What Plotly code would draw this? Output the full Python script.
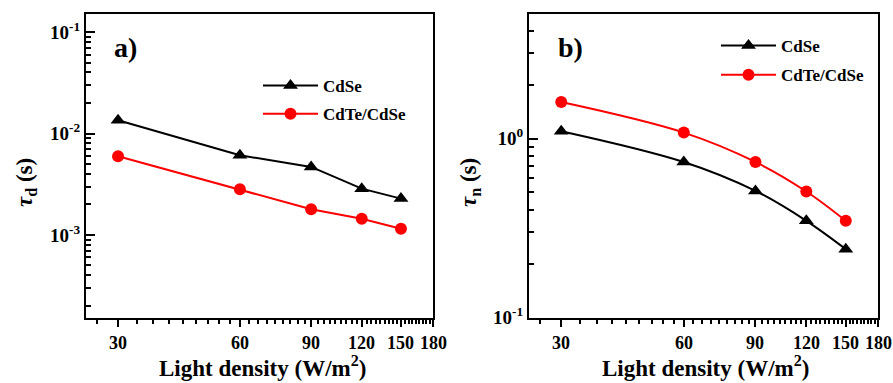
import numpy as np
import plotly.graph_objects as go

light = [30, 60, 90, 120, 150]
tau_d_cdse = [0.0135, 0.0061, 0.00468, 0.00286, 0.00228]
tau_d_cdte = [0.00596, 0.00282, 0.00179, 0.00144, 0.00115]
tau_n_cdse = [1.10, 0.74, 0.51, 0.347, 0.241]
tau_n_cdte = [1.60, 1.08, 0.74, 0.506, 0.347]
series_names = ["CdSe", "CdTe/CdSe"]
x_ticks = [30, 60, 90, 120, 150, 180]

W, H = 893, 383
FONT = "Liberation Serif"
BLACK = "#000000"
RED = "#ff0000"

fig = go.Figure()

def px_x(p):
    return p / W

def px_y(p):
    return 1 - p / H

# panel a
fig.add_trace(go.Scatter(x=light, y=tau_d_cdse, name=series_names[0], mode="lines+markers",
                         line=dict(color=BLACK, width=2), marker=dict(symbol="triangle-up", size=13, color=BLACK),
                         xaxis="x", yaxis="y", legend="legend", legendgroup="a1"))
fig.add_trace(go.Scatter(x=light, y=tau_d_cdte, name=series_names[1], mode="lines+markers",
                         line=dict(color=RED, width=2), marker=dict(symbol="circle", size=12, color=RED),
                         xaxis="x", yaxis="y", legend="legend", legendgroup="a2"))
# panel b
fig.add_trace(go.Scatter(x=light, y=tau_n_cdse, name=series_names[0], mode="lines+markers",
                         line=dict(color=BLACK, width=2, shape="spline"), marker=dict(symbol="triangle-up", size=13, color=BLACK),
                         xaxis="x2", yaxis="y2", legend="legend2", legendgroup="b1"))
fig.add_trace(go.Scatter(x=light, y=tau_n_cdte, name=series_names[1], mode="lines+markers",
                         line=dict(color=RED, width=2, shape="spline"), marker=dict(symbol="circle", size=12, color=RED),
                         xaxis="x2", yaxis="y2", legend="legend2", legendgroup="b2"))

x_minor = [round(k * 10 / 3, 4) for k in range(8, 55) if k % 9 != 0]
x_minor = [v for v in x_minor if 25 <= v <= 180]

def xaxis_cfg(d0, d1, anchor):
    return dict(type="log", range=[np.log10(25), np.log10(180)], domain=[d0, d1], anchor=anchor,
                tickmode="array", tickvals=x_ticks, showticklabels=False,
                ticks="outside", ticklen=7, tickwidth=2, tickcolor=BLACK, automargin=False,
                minor=dict(tickmode="array", tickvals=x_minor, ticks="outside", ticklen=4, tickwidth=1.5, tickcolor=BLACK),
                showline=True, linewidth=2, linecolor=BLACK, mirror=True, showgrid=False, zeroline=False)

def yaxis_cfg(rng, majors, labels, anchor, d0, d1):
    lo, hi = rng
    minors = []
    for e in range(int(np.floor(lo)) - 1, int(np.ceil(hi)) + 1):
        for k in range(2, 10):
            v = k * 10.0 ** e
            if 10 ** lo <= v <= 10 ** hi:
                minors.append(v)
    return dict(type="log", range=list(rng), domain=[d0, d1], anchor=anchor,
                tickmode="array", tickvals=majors, ticktext=labels,
                ticks="inside", ticklen=9, tickwidth=2, tickcolor=BLACK, automargin=False,
                minor=dict(tickmode="array", tickvals=minors, ticks="inside", ticklen=5, tickwidth=1.5, tickcolor=BLACK),
                showline=True, linewidth=2, linecolor=BLACK, mirror=True, showgrid=False, zeroline=False,
                tickfont=dict(family=FONT, size=19, color=BLACK, weight="bold"))

yd0, yd1 = px_y(317.5), px_y(13.5)
fig.update_layout(
    width=W, height=H,
    margin=dict(l=0, r=0, t=0, b=0, autoexpand=False),
    paper_bgcolor="white", plot_bgcolor="white",
    xaxis=xaxis_cfg(px_x(86), px_x(433), "y"),
    yaxis=yaxis_cfg((-3.815, -0.816), [1e-3, 1e-2, 1e-1],
                    ["10<sup>-3</sup>", "10<sup>-2</sup>", "10<sup>-1</sup>"], "x", yd0, yd1),
    xaxis2=xaxis_cfg(px_x(529), px_x(878), "y2"),
    yaxis2=yaxis_cfg((-1, np.log10(5)), [1e-1, 1e0],
                     ["10<sup>-1</sup>", "10<sup>0</sup>"], "x2", yd0, yd1),
    legend=dict(x=px_x(258), y=px_y(68), xanchor="left", yanchor="top", bgcolor="rgba(0,0,0,0)",
                font=dict(family=FONT, size=17, color=BLACK, weight="bold"), tracegroupgap=3, itemwidth=55),
    legend2=dict(x=px_x(716), y=px_y(28), xanchor="left", yanchor="top", bgcolor="rgba(0,0,0,0)",
                 font=dict(family=FONT, size=17, color=BLACK, weight="bold"), tracegroupgap=4, itemwidth=55),
)

ann_font = dict(family=FONT, color=BLACK, weight="bold")
# x tick labels placed through each x axis' own log scale
for xref in ["x", "x2"]:
    for v in x_ticks:
        fig.add_annotation(text=str(v), x=np.log10(v), xref=xref, y=px_y(343), yref="paper",
                           showarrow=False, xanchor="center", yanchor="middle",
                           font=dict(size=18, **ann_font))
for cx, txt in [(262, "Light density (W/m<sup>2</sup>)"), (705, "Light density (W/m<sup>2</sup>)")]:
    fig.add_annotation(text=txt, x=px_x(cx), y=px_y(366), xref="paper", yref="paper", showarrow=False,
                       xanchor="center", yanchor="middle", font=dict(size=23, **ann_font))
for cx, txt in [(26, "<i>τ</i><sub>d</sub> (s)"), (470, "<i>τ</i><sub>n</sub> (s)")]:
    fig.add_annotation(text=txt, x=px_x(cx), y=px_y(183), xref="paper", yref="paper", showarrow=False,
                       textangle=-90, xanchor="center", yanchor="middle", font=dict(size=23, **ann_font))
for cx, txt in [(125, "a)"), (570, "b)")]:
    fig.add_annotation(text=txt, x=px_x(cx), y=px_y(47), xref="paper", yref="paper", showarrow=False,
                       xanchor="center", yanchor="middle", font=dict(size=28, **ann_font))

fig.write_html("out.html", config={"displayModeBar": False},
               post_script="document.body.style.margin='0';")
